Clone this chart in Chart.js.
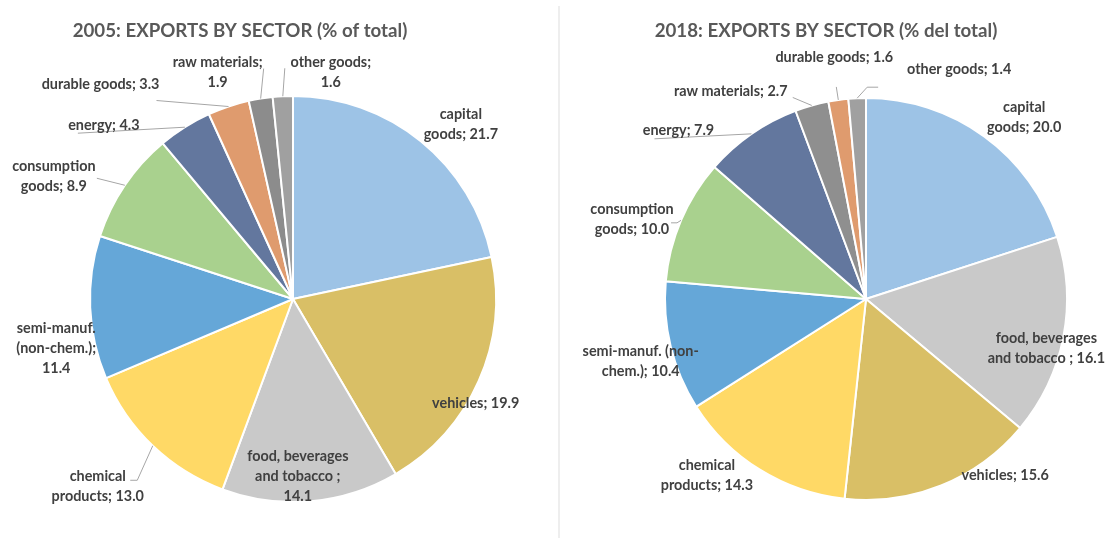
<!DOCTYPE html>
<html>
<head>
<meta charset="utf-8">
<script src="https://cdn.jsdelivr.net/npm/chart.js@4.4.1/dist/chart.umd.min.js"></script>
<style>
html, body { margin: 0; padding: 0; background: #fff; }
#wrap { position: relative; width: 1106px; height: 538px; overflow: hidden; }
.box { position: absolute; top: 0; width: 553px; height: 538px; }
#divider { position: absolute; left: 558px; top: 6px; width: 2px; height: 532px; background: #eeeeee; }
</style>
</head>
<body>
<div id="wrap">
  <div class="box" style="left:0"><canvas id="chart2005"></canvas></div>
  <div id="divider"></div>
  <div class="box" style="left:553px"><canvas id="chart2018"></canvas></div>
</div>
<script>
// 2005, clockwise from 12 o'clock
var sectors2005 = ['capital goods', 'vehicles', 'food, beverages and tobacco ', 'chemical products',
  'semi-manuf. (non-chem.)', 'consumption goods', 'energy', 'durable goods', 'raw materials', 'other goods'];
var values2005 = [21.7, 19.9, 14.1, 13.0, 11.4, 8.9, 4.3, 3.3, 1.9, 1.6];
var colors2005 = ['#9dc3e6', '#d9bf66', '#c9c9c9', '#ffd966', '#65a7d8', '#a9d18e', '#63779e', '#df9b6e', '#8c8c8c', '#a0a0a0'];

// 2018
var sectors2018 = ['capital goods', 'food, beverages and tobacco ', 'vehicles', 'chemical products',
  'semi-manuf. (non-chem.)', 'consumption goods', 'energy', 'raw materials', 'durable goods', 'other goods'];
var values2018 = [20.0, 16.1, 15.6, 14.3, 10.4, 10.0, 7.9, 2.7, 1.6, 1.4];
var colors2018 = ['#9dc3e6', '#c9c9c9', '#d9bf66', '#ffd966', '#65a7d8', '#a9d18e', '#63779e', '#8f8f8f', '#df9b6e', '#a0a0a0'];

// draws title + "name; value" labels next to each slice, with leader lines
const sliceLabels = {
  id: 'sliceLabels',
  afterDatasetsDraw(chart, args, opts) {
    const ctx = chart.ctx;
    const meta = chart.getDatasetMeta(0);
    const data = chart.data.datasets[0].data;
    ctx.save();
    ctx.textAlign = 'center';
    ctx.textBaseline = 'middle';
    ctx.fillStyle = '#595959';
    ctx.font = 'bold 18.7px Lato, "DejaVu Sans", sans-serif';
    ctx.fillText(opts.title, opts.titleX, opts.titleY);

    ctx.font = 'bold 14.4px Lato, "DejaVu Sans", sans-serif';
    meta.data.forEach((arc, i) => {
      const s = opts.spots[i];
      const p = arc.getProps(['x', 'y', 'startAngle', 'endAngle', 'outerRadius'], true);
      const mid = (p.startAngle + p.endAngle) / 2;
      const ex = p.x + Math.cos(mid) * p.outerRadius;
      const ey = p.y + Math.sin(mid) * p.outerRadius;
      const lx = ex + s.dx, ly = ey + s.dy;

      if (s.leader) {
        ctx.strokeStyle = '#a6a6a6';
        ctx.lineWidth = 1;
        ctx.beginPath();
        ctx.moveTo(ex, ey);
        s.leader.forEach(pt => ctx.lineTo(lx + pt[0], ly + pt[1]));
        ctx.stroke();
      }

      const text = chart.data.labels[i] + '; ' + data[i].toFixed(1);
      const tokens = text.match(/[^ \-]*[ \-]+|[^ \-]+$/g);
      const split = s.split || [tokens.length];
      const lines = [];
      let k = 0;
      split.forEach(n => { lines.push(tokens.slice(k, k + n).join('').trimEnd()); k += n; });

      ctx.fillStyle = '#404040';
      lines.forEach((ln, j) => {
        ctx.fillText(ln, lx, ly + (j - (lines.length - 1) / 2) * 20);
      });
    });
    ctx.restore();
  }
};

function makePie(id, labels, values, colors, radius, padding, labelOpts) {
  return new Chart(document.getElementById(id), {
    type: 'pie',
    data: {
      labels: labels,
      datasets: [{
        data: values,
        backgroundColor: colors,
        borderColor: '#ffffff',
        borderWidth: 2,
        hoverOffset: 0
      }]
    },
    options: {
      responsive: true,
      maintainAspectRatio: false,
      animation: false,
      events: [],
      radius: radius,
      layout: { padding: padding },
      plugins: {
        legend: { display: false },
        tooltip: { enabled: false },
        sliceLabels: labelOpts
      }
    },
    plugins: [sliceLabels]
  });
}

makePie('chart2005', sectors2005, values2005, colors2005, 203,
  { left: 40, right: 7, top: 70, bottom: 10 },
  {
    title: '2005: EXPORTS BY SECTOR (% of total)', titleX: 240, titleY: 31,
    spots: [
      { dx: 40, dy: -17, split: [1, 2] },
      { dx: -3, dy: 22 },
      { dx: -13, dy: -25, split: [2, 3, 1] },
      { dx: -55, dy: 41, split: [1, 2], leader: [[39.5, -6.5], [32.5, -6.5]] },
      { dx: -34, dy: 41, split: [2, 2, 1] },
      { dx: -71, dy: -9, split: [1, 2], leader: [[43, 2]] },
      { dx: -81, dy: -2, leader: [[-26, 8]] },
      { dx: -128, dy: -22, leader: [[56, 16]] },
      { dx: -43, dy: -26, split: [2, 1], leader: [[46, -4]] },
      { dx: 48, dy: -24, split: [2, 1], leader: [[-46, -4]] }
    ]
  });

makePie('chart2018', sectors2018, values2018, colors2018, 201,
  { left: 80, right: 7, top: 70, bottom: 10 },
  {
    title: '2018: EXPORTS BY SECTOR (% del total)', titleX: 273, titleY: 31,
    spots: [
      { dx: 40, dy: -19, split: [1, 2] },
      { dx: -17, dy: 11, split: [2, 4] },
      { dx: 64, dy: -10 },
      { dx: -53, dy: 6, split: [1, 2] },
      { dx: -30, dy: 15, split: [3, 2] },
      { dx: -49, dy: -0.5, split: [1, 2], leader: [[45, 3], [39, 3]] },
      { dx: -73, dy: -3, leader: [[-24, 8]] },
      { dx: -81, dy: -14, leader: [[62, 6]] },
      { dx: -4, dy: -43, leader: [[2, 30]] },
      { dx: 102, dy: -29, leader: [[-92, 18], [-81, 18]] }
    ]
  });
</script>
</body>
</html>
